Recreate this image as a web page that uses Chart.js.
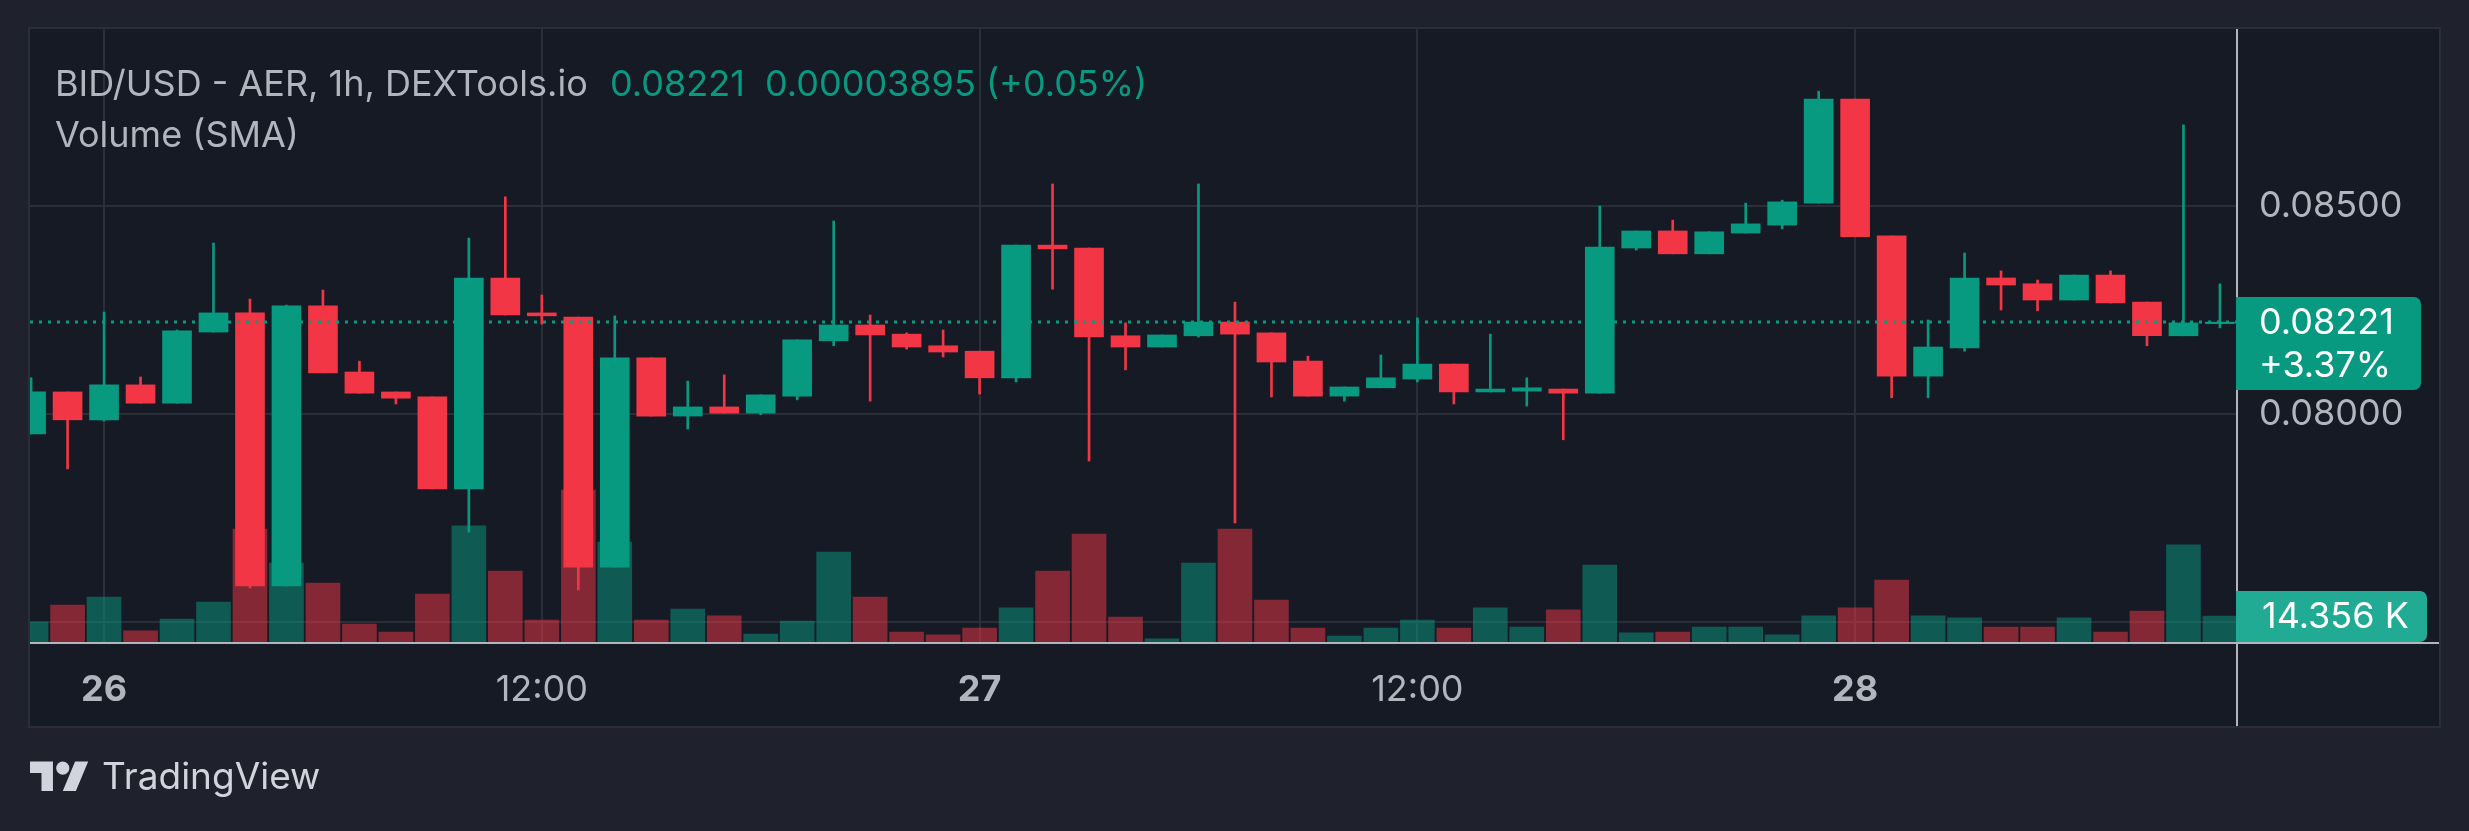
<!DOCTYPE html>
<html><head><meta charset="utf-8">
<script src="https://cdn.jsdelivr.net/npm/chart.js@4.4.1/dist/chart.umd.min.js"></script>
<style>
html,body{margin:0;padding:0;background:#1f222d;width:2469px;height:831px;overflow:hidden;font-family:Inter,"Noto Sans",sans-serif}
#c{position:absolute;left:0;top:0}
.t{position:absolute;white-space:nowrap;font-size:36px;line-height:36px;color:#b2b5be}
.g{color:#089981}
#logo{position:absolute;left:30px;top:755px;width:59px;height:46px}
</style></head><body>
<canvas id="c" width="2469" height="831"></canvas>
<div class="t" style="left:55px;top:65px">BID/USD - AER, 1h, DEXTools.io</div>
<div class="t g" style="left:610px;top:65px">0.08221</div>
<div class="t g" style="left:765px;top:65px">0.00003895 (+0.05%)</div>
<div class="t" style="left:55px;top:116px">Volume (SMA)</div>
<svg id="logo" viewBox="0 0 36 28"><path fill="#d1d4dc" d="M14 22H7V11H0V4h14v18zM28 22h-8l7.5-18h8L28 22z"/><circle fill="#d1d4dc" cx="20" cy="8" r="4"/></svg>
<div class="t" style="left:102px;top:757px;font-size:37px;line-height:37px;color:#d1d4dc">TradingView</div>
<script>
// ---- data (hours relative to 26 00:00, hourly candles) ----
const startHour = -2;
const opens  = [0.07952,0.08053,0.07986,0.08070,0.08026,0.08197,0.08243,0.07587,0.08260,0.08101,0.08053,0.08041,0.07820,0.08327,0.08243,0.08233,0.07632,0.08135,0.07995,0.08017,0.08002,0.08043,0.08176,0.08214,0.08192,0.08164,0.08151,0.08087,0.08406,0.08399,0.08188,0.08161,0.08188,0.08221,0.08195,0.08127,0.08043,0.08063,0.08084,0.08120,0.08053,0.08055,0.08060,0.08050,0.08399,0.08440,0.08385,0.08435,0.08454,0.08507,0.08757,0.08428,0.08091,0.08159,0.08327,0.08313,0.08274,0.08334,0.08269,0.08188,0.08217];
const highs  = [0.08087,0.08053,0.08245,0.08089,0.08202,0.08411,0.08276,0.08262,0.08298,0.08127,0.08053,0.08041,0.08423,0.08522,0.08286,0.08233,0.08236,0.08135,0.08079,0.08094,0.08046,0.08178,0.08464,0.08238,0.08195,0.08202,0.08151,0.08406,0.08553,0.08399,0.08219,0.08190,0.08553,0.08269,0.08195,0.08139,0.08065,0.08142,0.08231,0.08120,0.08192,0.08087,0.08060,0.08500,0.08440,0.08466,0.08438,0.08507,0.08514,0.08776,0.08757,0.08428,0.08226,0.08387,0.08344,0.08322,0.08334,0.08344,0.08269,0.08695,0.08313];
const lows   = [0.07952,0.07868,0.07983,0.08026,0.08026,0.08197,0.07582,0.07587,0.08099,0.08050,0.08024,0.07820,0.07716,0.08238,0.08216,0.07577,0.07632,0.07995,0.07964,0.08002,0.07998,0.08034,0.08164,0.08031,0.08156,0.08137,0.08048,0.08077,0.08300,0.07887,0.08106,0.08161,0.08185,0.07738,0.08041,0.08043,0.08031,0.08063,0.08077,0.08024,0.08053,0.08019,0.07938,0.08050,0.08394,0.08385,0.08385,0.08435,0.08445,0.08507,0.08426,0.08039,0.08039,0.08151,0.08250,0.08248,0.08274,0.08267,0.08164,0.08188,0.08207];
const closes = [0.08053,0.07986,0.08070,0.08026,0.08200,0.08243,0.07587,0.08260,0.08099,0.08050,0.08038,0.07820,0.08327,0.08238,0.08236,0.07632,0.08135,0.07995,0.08017,0.08002,0.08046,0.08178,0.08214,0.08190,0.08161,0.08149,0.08087,0.08406,0.08397,0.08185,0.08161,0.08190,0.08221,0.08192,0.08125,0.08043,0.08065,0.08087,0.08120,0.08053,0.08060,0.08063,0.08050,0.08401,0.08440,0.08385,0.08438,0.08457,0.08510,0.08757,0.08426,0.08091,0.08161,0.08327,0.08310,0.08274,0.08334,0.08267,0.08188,0.08219,0.08221];
const volumesK = [11.0,20.4,24.8,6.1,12.7,22.1,62.4,43.6,32.6,9.9,5.5,26.5,64.1,39.2,12.1,83.9,55.2,12.1,18.2,14.4,4.4,11.6,49.7,24.8,5.5,3.9,7.7,18.8,39.2,59.6,13.8,1.7,43.6,62.4,23.2,7.7,3.3,7.7,12.1,7.7,18.8,8.3,17.7,42.5,5.0,5.5,8.3,8.3,3.9,14.4,18.8,34.2,14.4,13.3,8.3,8.3,13.3,5.5,17.1,53.6,14.356];
const timeTickHours = [0, 12, 24, 36, 48];
const timeTickLabels = ['26', '12:00', '27', '12:00', '28'];
const priceTicks = [0.075, 0.080, 0.085];
const priceTickLabels = ['', '0.08000', '0.08500'];
const lastPriceLabel = '0.08221';
const lastChangeLabel = '+3.37%';
const lastVolumeLabel = '14.356 K';

// ---- styles / layout ----
const UP = '#089981', DOWN = '#f23645';
const UP_VOL = 'rgba(8,153,129,0.5)', DOWN_VOL = 'rgba(242,54,69,0.5)';
const PANEL = {l: 30, t: 29, r: 2439, b: 726};
const FONT = 'Inter, "Noto Sans", sans-serif';
const X_MIN = -2.03, X_MAX = 58.44;
const Y_MIN = 0.074519, Y_MAX = 0.089255, VOL_MAX = 338.5;

const hours = opens.map((_, i) => startHour + i);
const isUp = opens.map((o, i) => closes[i] >= o);
const lastClose = closes[closes.length - 1];
const lastVol = volumesK[volumesK.length - 1];

const decor = {
  id: 'decor',
  beforeDraw(chart) {
    const c = chart.ctx;
    c.save();
    c.fillStyle = '#1f222d';
    c.fillRect(0, 0, chart.width, chart.height);
    c.fillStyle = '#161a25';
    c.fillRect(PANEL.l, PANEL.t, PANEL.r - PANEL.l, PANEL.b - PANEL.t);
    c.strokeStyle = '#2a2e39';
    c.lineWidth = 2;
    c.strokeRect(PANEL.l - 1, PANEL.t - 1, PANEL.r - PANEL.l + 2, PANEL.b - PANEL.t + 2);
    c.restore();
  },
  afterDraw(chart) {
    const c = chart.ctx, a = chart.chartArea;
    const ys = chart.scales.y, yv = chart.scales.yv;
    c.save();
    c.fillStyle = '#b2b5be';
    c.fillRect(PANEL.l, a.bottom, PANEL.r - PANEL.l, 2);
    c.fillRect(a.right, PANEL.t, 2, PANEL.b - PANEL.t);
    // last price label
    const py = ys.getPixelForValue(lastClose);
    c.fillStyle = UP;
    c.beginPath();
    c.roundRect(a.right, py - 25, 185, 93, [0, 7, 7, 0]);
    c.fill();
    c.fillStyle = '#ffffff';
    c.font = '36px ' + FONT;
    c.textBaseline = 'middle';
    c.textAlign = 'left';
    c.fillText(lastPriceLabel, a.right + 23, py + 1);
    c.fillText(lastChangeLabel, a.right + 23, py + 44);
    // last volume label
    const vy = yv.getPixelForValue(lastVol);
    c.fillStyle = '#22ab94';
    c.beginPath();
    c.roundRect(a.right, vy - 25, 191, 51, [0, 7, 7, 0]);
    c.fill();
    c.fillStyle = '#ffffff';
    c.fillText(lastVolumeLabel, a.right + 26, vy + 1);
    c.restore();
  }
};

new Chart(document.getElementById('c'), {
  type: 'bar',
  data: {
    datasets: [
      {
        type: 'line', label: 'last', order: 0, yAxisID: 'y',
        data: [{x: X_MIN, y: lastClose}, {x: X_MAX, y: lastClose}],
        borderColor: UP, borderWidth: 3, borderDash: [3, 6], pointRadius: 0, fill: false
      },
      {
        label: 'body', order: 1, yAxisID: 'y', grouped: false, barThickness: 29,
        data: hours.map((h, i) => ({x: h, y: [opens[i], closes[i]]})),
        backgroundColor: isUp.map(u => u ? UP : DOWN), borderWidth: 0
      },
      {
        label: 'wick', order: 2, yAxisID: 'y', grouped: false, barThickness: 2,
        data: hours.map((h, i) => ({x: h, y: [lows[i], highs[i]]})),
        backgroundColor: isUp.map(u => u ? UP : DOWN), borderWidth: 0
      },
      {
        label: 'volume', order: 3, yAxisID: 'yv', grouped: false, barThickness: 34,
        data: hours.map((h, i) => ({x: h, y: volumesK[i]})),
        backgroundColor: isUp.map(u => u ? UP_VOL : DOWN_VOL), borderWidth: 0
      }
    ]
  },
  options: {
    responsive: false, animation: false, devicePixelRatio: 1,
    layout: {padding: {left: PANEL.l, top: PANEL.t, right: 2469 - PANEL.r, bottom: 831 - PANEL.b}},
    plugins: {legend: {display: false}, tooltip: {enabled: false}},
    events: [],
    scales: {
      x: {
        type: 'linear', min: X_MIN, max: X_MAX, offset: false,
        grid: {color: '#2a2e39', lineWidth: 2, drawTicks: false, offset: false},
        border: {display: false},
        afterBuildTicks: s => { s.ticks = timeTickHours.map(v => ({value: v})); },
        afterFit: s => { s.height = PANEL.b - 642; s.paddingLeft = 0; s.paddingRight = 0; },
        ticks: {
          autoSkip: false, maxRotation: 0, padding: 27, color: '#b2b5be',
          font: ctx => ({family: FONT, size: 36, weight: (ctx.tick && String(ctx.tick.label).includes(':')) ? 'normal' : 'bold'}),
          callback: (v, i) => timeTickLabels[i]
        }
      },
      y: {
        type: 'linear', position: 'right', min: Y_MIN, max: Y_MAX,
        grid: {color: '#2a2e39', lineWidth: 2, drawTicks: false},
        border: {display: false},
        afterBuildTicks: s => { s.ticks = priceTicks.map(v => ({value: v})); },
        afterFit: s => { s.width = 203; s.paddingTop = 0; s.paddingBottom = 0; },
        ticks: {padding: 23, color: '#b2b5be', font: {family: FONT, size: 36}, callback: (v, i) => priceTickLabels[i]}
      },
      yv: {
        type: 'linear', display: false, min: 0, max: VOL_MAX, stacked: false
      }
    }
  },
  plugins: [decor]
});
</script>
</body></html>
